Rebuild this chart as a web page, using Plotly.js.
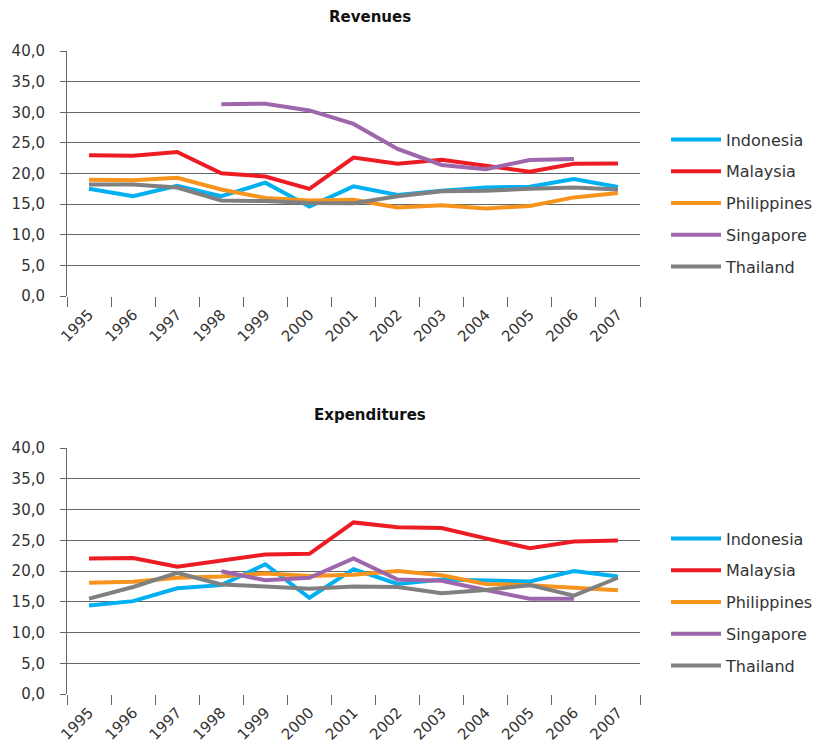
<!DOCTYPE html>
<html><head><meta charset="utf-8">
<script src="https://cdn.plot.ly/plotly-3.0.1.min.js"></script>
<style>html,body{margin:0;padding:0;background:#fff;}#chart{width:824px;height:751px;}</style>
</head><body><div id="chart"></div>
<script>
const years = ['1995','1996','1997','1998','1999','2000','2001','2002','2003','2004','2005','2006','2007'];
const countries = ['Indonesia','Malaysia','Philippines','Singapore','Thailand'];
const colors = ['#00b0f0','#ed1c24','#f7941d','#9e66ab','#808080'];

const revIndonesia   = [17.5,16.3,18.0,16.3,18.5,14.6,17.9,16.5,17.2,17.7,17.85,19.1,17.8];
const revMalaysia    = [23.0,22.9,23.5,20.05,19.5,17.5,22.6,21.6,22.25,21.2,20.3,21.6,21.65];
const revPhilippines = [19.0,18.9,19.3,17.4,16.0,15.6,15.7,14.45,14.8,14.3,14.7,16.1,16.8];
const revSingapore   = [null,null,null,31.3,31.4,30.3,28.1,24.0,21.4,20.7,22.2,22.35,null];
const revThailand    = [18.2,18.2,17.7,15.6,15.5,15.2,15.15,16.3,17.1,17.2,17.5,17.7,17.4];

const expIndonesia   = [14.4,15.1,17.2,17.7,21.1,15.65,20.3,17.9,18.6,18.5,18.3,20.0,19.1];
const expMalaysia    = [22.05,22.1,20.7,21.7,22.7,22.8,27.9,27.1,27.0,25.3,23.7,24.8,24.95];
const expPhilippines = [18.1,18.25,18.9,19.1,19.6,19.2,19.4,20.0,19.3,17.9,17.7,17.3,16.85];
const expSingapore   = [null,null,null,19.95,18.5,18.9,22.05,18.6,18.4,16.9,15.5,15.5,null];
const expThailand    = [15.5,17.4,19.7,17.8,17.5,17.1,17.5,17.4,16.4,16.9,17.7,16.0,18.9];

const tickVals = [0,5,10,15,20,25,30,35,40];

const revSeries = [revIndonesia, revMalaysia, revPhilippines, revSingapore, revThailand];
const expSeries = [expIndonesia, expMalaysia, expPhilippines, expSingapore, expThailand];

const W = 824, H = 751;
const FONT = 'DejaVu Sans, Arial, sans-serif';
const traces = [];
revSeries.forEach((s,i)=>traces.push({
  type:'scatter', mode:'lines', x:years, y:s, name:countries[i],
  line:{color:colors[i], width:4}, xaxis:'x', yaxis:'y',
  legend:'legend', legendgroup:'r'+i, connectgaps:false
}));
expSeries.forEach((s,i)=>traces.push({
  type:'scatter', mode:'lines', x:years, y:s, name:countries[i],
  line:{color:colors[i], width:4}, xaxis:'x2', yaxis:'y2',
  legend:'legend2', legendgroup:'e'+i, connectgaps:false
}));

const xdom = [67/W, 640/W];
function xa(anchor){
  return {domain:xdom, anchor:anchor, type:'category', range:[-0.5,12.5],
    tickangle:-45, tickson:'boundaries', ticks:'outside', ticklen:10, tickcolor:'#666',
    showgrid:false, showline:false, zeroline:false, ticklabelstandoff:6,
    tickfont:{family:FONT,size:15,color:'#333'}, fixedrange:true};
}
function ya(anchor, top, bottom){
  return {domain:[(H-bottom)/H,(H-top)/H], anchor:anchor, range:[0,40],
    tickvals:tickVals, tickformat:'.1f', ticks:'outside', ticklen:6, tickcolor:'#666',
    showgrid:true, gridcolor:'#666', gridwidth:1, showline:true, linecolor:'#666', linewidth:1,
    zeroline:false, ticklabelstandoff:12,
    tickfont:{family:FONT,size:15,color:'#333'}, fixedrange:true};
}
function leg(yc){
  return {x:666/W, xanchor:'left', y:(H-yc)/H, yanchor:'middle', traceorder:'grouped',
    tracegroupgap:8, itemwidth:50, font:{family:FONT,size:16,color:'#333'}, bgcolor:'rgba(0,0,0,0)'};
}
const layout = {
  width:W, height:H, margin:{l:0,r:0,t:0,b:0},
  paper_bgcolor:'#fff', plot_bgcolor:'#fff', separators:',.',
  showlegend:true,
  xaxis:xa('y'), yaxis:ya('x',51,296),
  xaxis2:xa('y2'), yaxis2:ya('x2',448,694),
  legend:leg(203), legend2:leg(602),
  annotations:[
    {text:'<b>Revenues</b>', xref:'paper', yref:'paper', x:370/W, y:(H-17)/H, xanchor:'center', yanchor:'middle', showarrow:false, font:{family:FONT,size:15,color:'#111'}},
    {text:'<b>Expenditures</b>', xref:'paper', yref:'paper', x:370/W, y:(H-415)/H, xanchor:'center', yanchor:'middle', showarrow:false, font:{family:FONT,size:15,color:'#111'}}
  ]
};
Plotly.newPlot('chart', traces, layout, {displayModeBar:false, staticPlot:true});
</script></body></html>
